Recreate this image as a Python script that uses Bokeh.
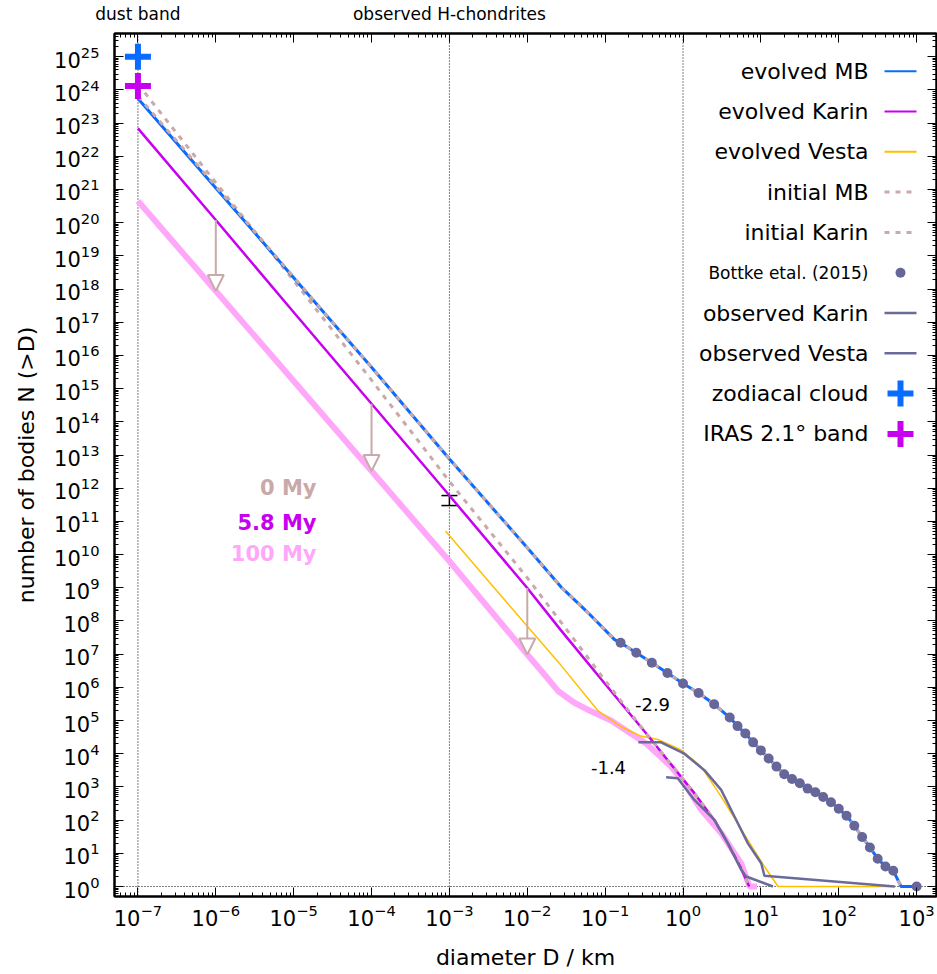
import math
from bokeh.plotting import figure
from bokeh.models import (Range1d, LogAxis, FixedTicker, Span, Label, Arrow, NormalHead,
                          Whisker, TeeHead, ColumnDataSource, CustomJSTickFormatter)
from bokeh.embed import file_html
from bokeh.resources import INLINE

FONT = "DejaVu Sans"

# ---------------- data ----------------
# evolved main belt (D in km, cumulative N(>D))
mb_D = [1e-7, 1e-6, 1e-5, 1e-4, 1e-3, 1e-2, 0.027, 0.063, 0.132,
        0.158, 0.251, 0.398, 0.631, 1.0, 1.585, 2.512, 3.981, 5.012, 6.31, 7.943,
        10.0, 12.59, 15.85, 19.95, 25.12, 31.62, 39.81, 50.12, 63.1, 79.43,
        100.0, 125.9, 158.5, 199.5, 251.2, 316.2, 398.1, 501.2, 631.0, 890.0]
mb_N = [5.5e23, 1.1e21, 2.2e18, 4.4e15, 7.6e12, 1.6e10, 1.07e9, 1.6e8, 2.75e7,
        2.2e7, 1.1e7, 5.5e6, 2.7e6, 1.3e6, 6.8e5, 3.1e5, 1.23e5, 6.8e4, 4.1e4, 2.2e4,
        1.26e4, 7.2e3, 4.1e3, 2.4e3, 1.74e3, 1.29e3, 890, 690, 500, 347,
        219, 135, 68, 31, 15, 6.9, 4.0, 3.0, 1.0, 1.0]

# initial main belt
mbi_D = [1e-7, 1e-6, 1e-5, 1e-4, 1e-3, 1e-2, 0.027, 0.063, 0.132,
         0.158, 0.251, 0.398, 0.631, 1.0, 1.585, 2.512, 3.981, 5.012, 6.31, 7.943,
         10.0, 12.59, 15.85, 19.95, 25.12, 31.62, 39.81, 50.12, 63.1, 79.43,
         100.0, 125.9, 158.5, 199.5, 251.2, 316.2, 398.1, 501.2, 631.0]
mbi_N = [6.5e23, 1.25e21, 2.3e18, 4.4e15, 7.6e12, 1.6e10, 1.07e9, 1.6e8, 2.75e7,
         2.2e7, 1.1e7, 5.5e6, 2.7e6, 1.3e6, 6.8e5, 3.1e5, 1.23e5, 6.8e4, 4.1e4, 2.2e4,
         1.26e4, 7.2e3, 4.1e3, 2.4e3, 1.74e3, 1.29e3, 890, 690, 500, 347,
         219, 135, 68, 31, 15, 6.9, 4.0, 3.0, 1.0]

# Bottke et al. (2015)
bottke_D = [0.158, 0.251, 0.398, 0.631, 1.0, 1.585, 2.512, 3.981, 5.012, 6.31, 7.943,
            10.0, 12.59, 15.85, 19.95, 25.12, 31.62, 39.81, 50.12, 63.1, 79.43,
            100.0, 125.9, 158.5, 199.5, 251.2, 316.2, 398.1, 501.2, 1000.0]
bottke_N = [2.2e7, 1.1e7, 5.5e6, 2.7e6, 1.3e6, 6.8e5, 3.1e5, 1.23e5, 6.8e4, 4.1e4, 2.2e4,
            1.26e4, 7.2e3, 4.1e3, 2.4e3, 1.74e3, 1.29e3, 890, 690, 500, 347,
            219, 135, 68, 31, 15, 6.9, 4.0, 3.0, 1.0]

# evolved Karin (5.8 My)
karin_D = [1e-7, 1e-6, 1e-5, 1e-4, 1e-3, 1e-2, 0.0271, 0.1, 0.352, 0.946, 1.40,
           2.53, 3.77, 5.58, 7.08]
karin_N = [6.9e22, 1.2e20, 2.0e17, 3.5e14, 6.0e11, 9.8e8, 5.2e7, 1.26e6, 3.6e4, 2.0e3, 650,
           100, 20, 3.5, 1.0]

# initial Karin (0 My)
karini_D = [1e-7, 1e-6, 1e-5, 1e-4, 1e-3, 1e-2, 0.0407, 0.1, 0.352, 0.946, 1.40,
            2.53, 3.77, 5.58, 7.08]
karini_N = [1.5e24, 1.6e21, 1.8e18, 1.8e15, 1.6e12, 2.0e9, 2.6e7, 1.6e6, 3.6e4, 2.0e3, 650,
            100, 20, 3.5, 1.0]

# Karin after 100 My
karin100_D = [1e-7, 1e-6, 1e-5, 1e-4, 1e-3, 1e-2, 0.0158, 0.0251, 0.0398, 0.063, 0.119,
              0.339, 0.703, 1.04, 1.71, 3.09, 5.58, 7.14, 8.9]
karin100_N = [4.5e20, 8.7e17, 1.7e15, 3.3e12, 6.3e9, 9.8e6, 2.8e6, 7.6e5, 3.5e5, 2.0e5, 1.0e5,
              2.0e4, 4.1e3, 1.3e3, 204, 41, 5.0, 1.0, 1.0]

# evolved Vesta
vesta_D = [8.9e-4, 3.16e-3, 1e-2, 0.0271, 0.0804, 0.16, 0.288, 0.474, 0.946, 1.71,
           3.09, 6.81, 11.1, 16.6, 525.0]
vesta_N = [5.1e10, 1.6e9, 6.9e7, 4.6e6, 2.0e5, 6.5e4, 3.4e4, 2.7e4, 1.3e4, 4.1e3,
           513, 25, 4.0, 1.0, 1.0]

# observed Karin family
okarin_D = [0.607, 0.857, 1.40, 2.53, 3.77, 5.58, 6.47, 14.3]
okarin_N = [1950, 1820, 407, 102, 20, 3.2, 2.0, 1.0]

# observed Vesta family
ovesta_D = [0.267, 0.522, 1.04, 1.88, 3.09, 4.58, 6.81, 10.1, 11.1, 525.0]
ovesta_N = [2.2e4, 2.2e4, 1.0e4, 3.2e3, 813, 129, 20, 5.0, 2.1, 1.0]

# dust constraints at D = 1e-7 km
zodi_D, zodi_N = [1e-7], [1e25]
iras_D, iras_N = [1e-7], [1.3e24]

# arrows (initial -> evolved)
arrow_D = [1e-6, 1e-4, 1e-2]
arrow_from = [1.2e20, 3.5e14, 9.8e8]
arrow_to = [8.7e17, 3.3e12, 9.8e6]

# H-chondrite error bar
err_D, err_lo, err_hi = [1e-3], [3.0e11], [6.0e11]

legend_labels = ["evolved MB", "evolved Karin", "evolved Vesta", "initial MB", "initial Karin",
                 "Bottke etal. (2015)", "observed Karin", "observed Vesta", "zodiacal cloud",
                 "IRAS 2.1° band"]

x_major = [10.0 ** k for k in range(-7, 4)]
y_major = [10.0 ** k for k in range(0, 26)]

# ---------------- colours ----------------
C_MB = "#0a6cff"
C_KARIN = "#c800f0"
C_VESTA = "#ffbf00"
C_INIT = "#c9a9a9"
C_OBS = "#6b6b9b"
C_PINK = "#ffa8fa"
C_BOTTKE = "#66669a"

# ---------------- layout ----------------
W, H = 937, 974
FL, FR, FT, FB = 114, 936, 33, 896
X0, X1 = 5e-8, 1.8e3
Y0, Y1 = 0.5, 5e25
XL, XR = math.log10(X0), math.log10(X1)
YB, YT = math.log10(Y0), math.log10(Y1)


def sx(px):
    return 10 ** (XL + (px - FL) * (XR - XL) / (FR - FL))


def sy(py):
    return 10 ** (YB + (FB - py) * (YT - YB) / (FB - FT))


p = figure(width=W, height=H, x_axis_type="log", y_axis_type="log",
           x_range=Range1d(X0, X1), y_range=Range1d(Y0, Y1),
           output_backend="svg", toolbar_location=None,
           min_border_left=FL, min_border_right=W - FR, min_border_top=FT, min_border_bottom=H - FB)
p.xgrid.visible = False
p.ygrid.visible = False
p.outline_line_color = "black"
p.outline_line_width = 2
p.background_fill_color = "white"
p.border_fill_color = "white"

bottom_ax = p.below[0]
left_ax = p.left[0]

x_minor = [m * 10.0 ** k for k in range(-8, 4) for m in range(2, 10)]
y_minor = [m * 10.0 ** k for k in range(-1, 26) for m in range(2, 10)]
xt = FixedTicker(ticks=x_major, minor_ticks=x_minor)
yt = FixedTicker(ticks=y_major, minor_ticks=y_minor)
bottom_ax.ticker = xt
left_ax.ticker = yt

top_ax = LogAxis(ticker=xt, formatter=CustomJSTickFormatter(code="""
    const e = Math.round(Math.log10(tick));
    if (e == -7) { return "dust band"; }
    if (e == -3) { return "observed H-chondrites"; }
    return "";
"""))
right_ax = LogAxis(ticker=yt, formatter=CustomJSTickFormatter(code="return ''"))
p.add_layout(top_ax, "above")
p.add_layout(right_ax, "right")

for ax in [bottom_ax, left_ax, top_ax, right_ax]:
    ax.major_tick_in = 9
    ax.major_tick_out = 0
    ax.minor_tick_in = 4
    ax.minor_tick_out = 0
    ax.axis_line_width = 2
    ax.major_tick_line_width = 1
    ax.minor_tick_line_width = 1
    ax.major_label_text_font = FONT
    ax.major_label_text_font_size = "21px"
    ax.major_label_text_color = "black"
    ax.axis_label_text_font = FONT
    ax.axis_label_text_font_size = "22px"
    ax.axis_label_text_font_style = "normal"
    ax.axis_label_text_color = "black"

top_ax.major_label_text_font_size = "17px"
top_ax.major_label_standoff = 10
right_ax.major_label_text_font_size = "0px"
right_ax.major_label_standoff = 0
right_ax.axis_label_standoff = 0

bottom_ax.major_label_standoff = 7
left_ax.major_label_standoff = 15
bottom_ax.axis_label = "diameter D / km"
bottom_ax.axis_label_standoff = 16
left_ax.axis_label = "number of bodies N (>D)"
left_ax.axis_label_standoff = 12

# reference lines
for loc in [1e-7, 1e-3, 1.0]:
    p.add_layout(Span(location=loc, dimension="height", line_color="black",
                      line_width=1, line_dash="1 2", level="underlay"))
p.add_layout(Span(location=1.0, dimension="width", line_color="black",
                  line_width=1, line_dash="1 2", level="underlay"))

# curves
p.line(karin100_D, karin100_N, line_color=C_PINK, line_width=6)
p.line(vesta_D, vesta_N, line_color=C_VESTA, line_width=1.5)
p.line(karin_D, karin_N, line_color=C_KARIN, line_width=2.5)
p.line(karini_D, karini_N, line_color=C_INIT, line_width=3, line_dash="5 6")
p.line(mb_D, mb_N, line_color=C_MB, line_width=3)
p.line(mbi_D, mbi_N, line_color=C_INIT, line_width=3, line_dash="5 6")
p.line(ovesta_D, ovesta_N, line_color=C_OBS, line_width=2.5)
p.line(okarin_D, okarin_N, line_color=C_OBS, line_width=2.5)
p.scatter(bottke_D, bottke_N, marker="circle", size=10, fill_color=C_BOTTKE, line_color=None)
p.scatter(zodi_D, zodi_N, marker="cross", size=26, line_color=C_MB, line_width=6)
p.scatter(iras_D, iras_N, marker="cross", size=26, line_color=C_KARIN, line_width=6)

# arrows
asrc = ColumnDataSource(dict(x0=arrow_D, y0=arrow_from, x1=arrow_D, y1=arrow_to))
p.add_layout(Arrow(source=asrc, x_start="x0", y_start="y0", x_end="x1", y_end="y1",
                   line_color=C_INIT, line_width=2,
                   end=NormalHead(size=16, fill_color="white", line_color=C_INIT, line_width=2)))

# error bar
esrc = ColumnDataSource(dict(base=err_D, lower=err_lo, upper=err_hi))
p.add_layout(Whisker(source=esrc, base="base", lower="lower", upper="upper", dimension="height",
                     line_color="black", line_width=1.5,
                     upper_head=TeeHead(size=16, line_color="black", line_width=1.5),
                     lower_head=TeeHead(size=16, line_color="black", line_width=1.5)))


def label(px, py, text, size, color="black", align="center", style="normal"):
    p.add_layout(Label(x=sx(px), y=sy(py), text=text, text_font=FONT, text_font_size=size,
                       text_color=color, text_align=align, text_baseline="middle",
                       text_font_style=style))


# age labels
label(316, 487, "0 My", "21px", C_INIT, "right", "bold")
label(316, 522, "5.8 My", "21px", C_KARIN, "right", "bold")
label(316, 553, "100 My", "21px", C_PINK, "right", "bold")

# slopes
label(652, 704, "-2.9", "18px")
label(608, 767, "-1.4", "18px")

# legend (text on the left, sample on the right)
LX_TEXT, LX0, LX1 = 868, 884, 916
kinds = [("line", C_MB), ("line", C_KARIN), ("line", C_VESTA), ("dash", C_INIT), ("dash", C_INIT),
         ("dot", C_BOTTKE), ("line", C_OBS), ("line", C_OBS), ("cross", C_MB), ("cross", C_KARIN)]
for i, (txt, (kind, col)) in enumerate(zip(legend_labels, kinds)):
    yc = 70.7 + i * 40.3
    fs = "17px" if kind == "dot" else "22px"
    label(LX_TEXT, yc, txt, fs, "black", "right")
    if kind == "line":
        p.line([sx(LX0), sx(LX1)], [sy(yc), sy(yc)], line_color=col,
               line_width=2.5 if col == C_OBS else 2)
    elif kind == "dash":
        p.line([sx(LX0), sx(LX1)], [sy(yc), sy(yc)], line_color=col, line_width=3, line_dash="5 6")
    elif kind == "dot":
        p.scatter([sx(900)], [sy(yc)], marker="circle", size=10, fill_color=col, line_color=None)
    else:
        p.scatter([sx(900)], [sy(yc)], marker="cross", size=26, line_color=col, line_width=6)

open("out.html", "w").write(file_html(p, INLINE))
